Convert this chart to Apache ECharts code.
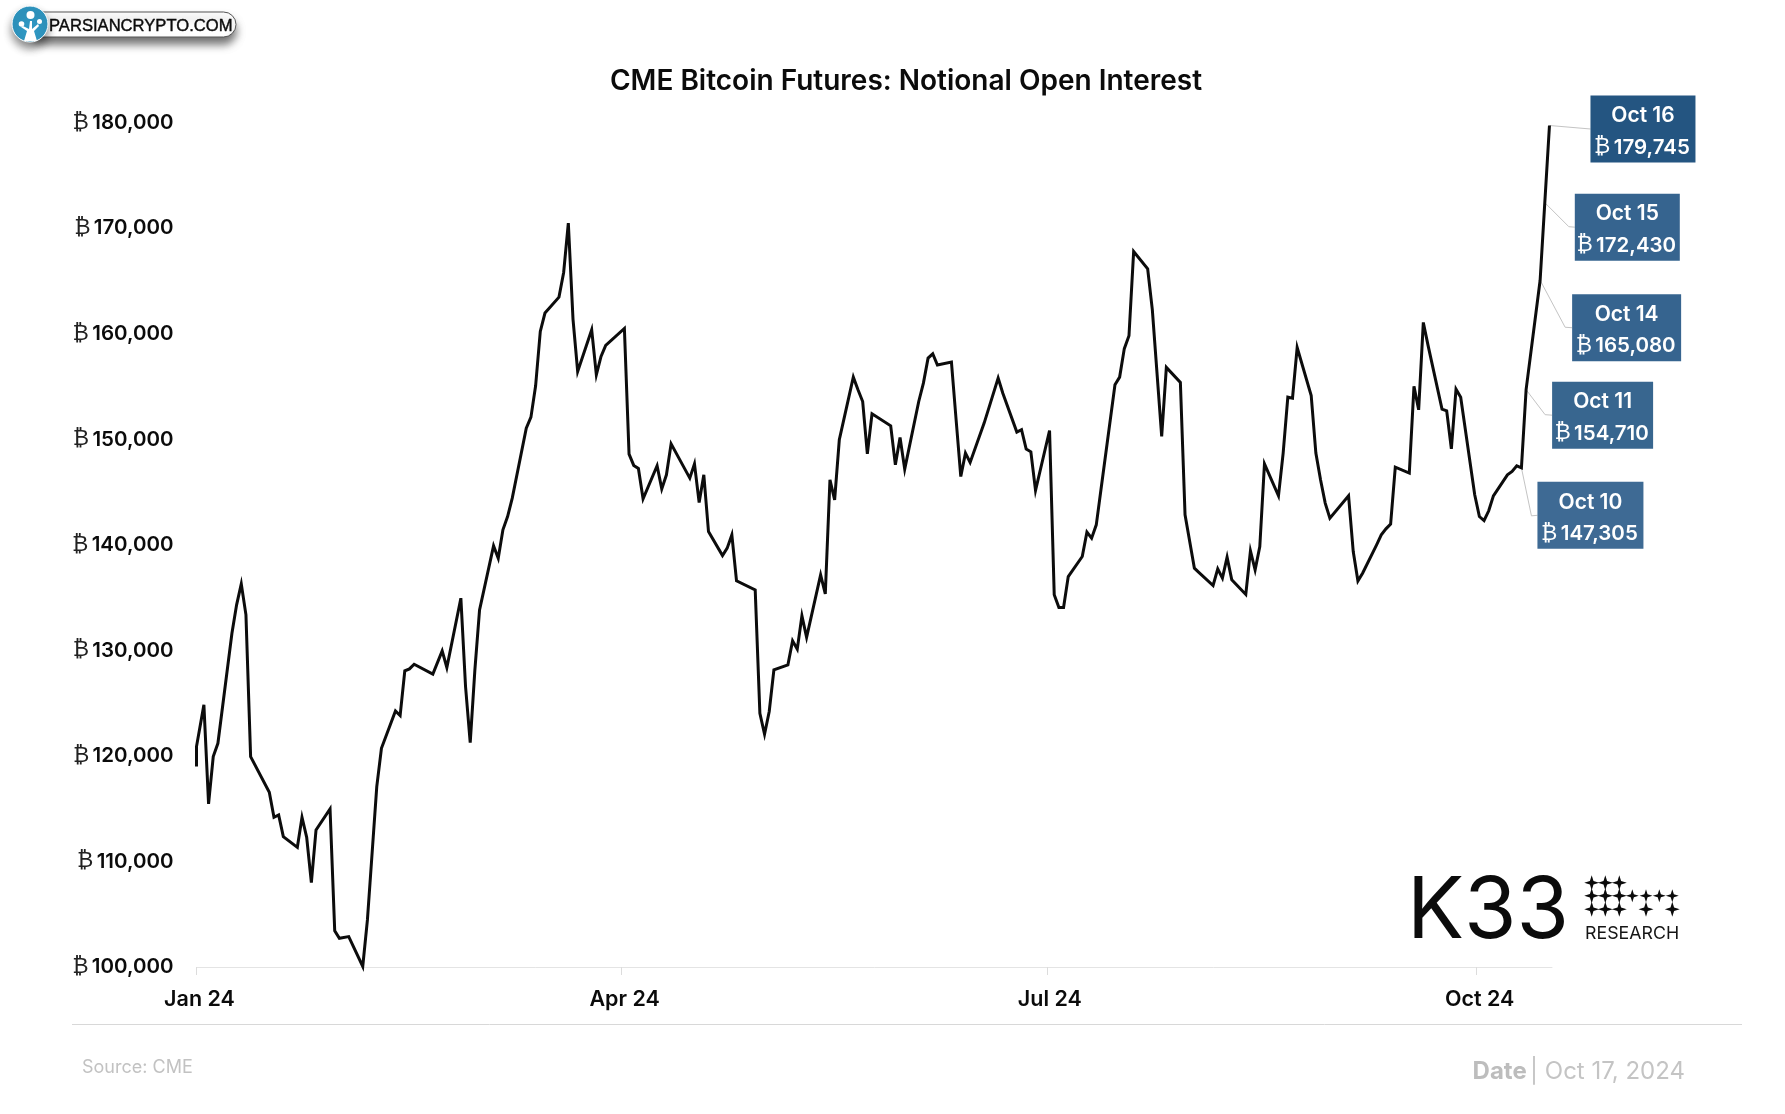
<!DOCTYPE html>
<html>
<head>
<meta charset="utf-8">
<title>CME Bitcoin Futures: Notional Open Interest</title>
<script src="https://cdn.jsdelivr.net/npm/echarts@6/dist/echarts.min.js"></script>
<style>
  html, body { margin: 0; padding: 0; background: #fff; }
  #main { width: 1785px; height: 1114px; }
</style>
</head>
<body>
<div id="main"></div>
<script>
const dates = [
  '2024-01-01T00:00', '2024-01-01T00:01', '2024-01-02', '2024-01-03', '2024-01-04', '2024-01-05', '2024-01-08', '2024-01-09', '2024-01-10', '2024-01-11', '2024-01-12',
  '2024-01-16', '2024-01-17', '2024-01-18', '2024-01-19', '2024-01-22', '2024-01-23', '2024-01-24', '2024-01-25', '2024-01-26',
  '2024-01-29', '2024-01-30', '2024-01-31', '2024-02-02', '2024-02-05', '2024-02-06', '2024-02-07', '2024-02-08', '2024-02-09',
  '2024-02-12', '2024-02-13', '2024-02-14', '2024-02-15', '2024-02-16', '2024-02-20', '2024-02-22', '2024-02-23',
  '2024-02-26', '2024-02-27', '2024-02-28', '2024-02-29', '2024-03-01', '2024-03-04', '2024-03-05', '2024-03-06', '2024-03-07', '2024-03-08',
  '2024-03-11', '2024-03-12', '2024-03-13', '2024-03-14', '2024-03-15', '2024-03-18', '2024-03-19', '2024-03-20', '2024-03-21', '2024-03-22',
  '2024-03-25', '2024-03-26', '2024-03-27', '2024-03-28', '2024-04-01', '2024-04-02', '2024-04-03', '2024-04-04', '2024-04-05',
  '2024-04-08', '2024-04-09', '2024-04-10', '2024-04-11', '2024-04-15', '2024-04-16', '2024-04-17', '2024-04-18', '2024-04-19',
  '2024-04-22', '2024-04-23', '2024-04-24', '2024-04-25', '2024-04-29', '2024-04-30', '2024-05-01', '2024-05-02', '2024-05-03',
  '2024-05-06', '2024-05-07', '2024-05-08', '2024-05-09', '2024-05-10', '2024-05-13', '2024-05-14', '2024-05-15', '2024-05-16', '2024-05-17',
  '2024-05-20', '2024-05-21', '2024-05-22', '2024-05-23', '2024-05-24', '2024-05-28', '2024-05-29', '2024-05-30', '2024-05-31',
  '2024-06-03', '2024-06-04', '2024-06-05', '2024-06-06', '2024-06-07', '2024-06-10', '2024-06-11', '2024-06-12', '2024-06-13', '2024-06-14',
  '2024-06-17', '2024-06-18', '2024-06-20', '2024-06-21', '2024-06-24', '2024-06-25', '2024-06-26', '2024-06-27', '2024-06-28',
  '2024-07-01', '2024-07-02', '2024-07-03', '2024-07-04', '2024-07-05', '2024-07-08', '2024-07-09', '2024-07-10', '2024-07-11', '2024-07-12',
  '2024-07-15', '2024-07-16', '2024-07-17', '2024-07-18', '2024-07-19', '2024-07-22', '2024-07-23', '2024-07-24', '2024-07-25', '2024-07-26',
  '2024-07-29', '2024-07-30', '2024-07-31', '2024-08-01', '2024-08-02', '2024-08-05', '2024-08-06', '2024-08-07', '2024-08-08', '2024-08-09',
  '2024-08-12', '2024-08-13', '2024-08-14', '2024-08-15', '2024-08-16', '2024-08-19', '2024-08-20', '2024-08-21', '2024-08-22', '2024-08-23',
  '2024-08-26', '2024-08-27', '2024-08-28', '2024-08-29', '2024-08-30', '2024-09-03', '2024-09-04', '2024-09-05', '2024-09-06',
  '2024-09-09', '2024-09-10', '2024-09-11', '2024-09-12', '2024-09-13', '2024-09-16', '2024-09-17', '2024-09-18', '2024-09-19', '2024-09-20',
  '2024-09-23', '2024-09-24', '2024-09-25', '2024-09-26', '2024-09-27', '2024-09-30', '2024-10-01', '2024-10-02', '2024-10-03', '2024-10-04',
  '2024-10-07', '2024-10-08', '2024-10-09', '2024-10-10', '2024-10-11', '2024-10-14', '2024-10-15', '2024-10-16'
];
const openInterest = [
  118990, 120890, 124840, 115450, 119940, 121200, 131630, 134320, 136310, 133370, 119940,
  116560, 114190, 114410, 112360, 111340, 114190, 112290, 108000, 112990,
  114980, 103440, 102720, 102880, 100060, 104460, 110780, 117100, 120730,
  124270, 123830, 128060, 128250, 128690, 127750, 129960, 128380,
  134950, 126580, 121270, 128160, 133840, 139910, 138740, 141430, 142690, 144430,
  151070, 152110, 155080, 160230, 161970, 163480, 165820, 170500, 161400, 156440,
  160390, 156120, 157860, 158900, 160510, 148600, 147530, 147240, 144370,
  147500, 145310, 146640, 149580, 146330, 147680, 144020, 146640, 141270,
  138990, 139690, 140950, 136590, 135740, 124050, 122060, 124210, 128160,
  128630, 130910, 130120, 133280, 131250, 137160, 135360, 146170, 144270, 149960,
  155900, 154700, 153590, 148630, 152420, 151290, 147590, 150180, 147180,
  153590, 155330, 157700, 158110, 157040, 157320, 151860, 146480, 148700, 147810,
  151540, 152960, 155810, 154380, 150690, 150910, 149080, 148820, 145160,
  150840, 135270, 134070, 134070, 137000, 138900, 141210, 140640, 141900, 145220,
  155170, 155900, 158600, 159820, 167810, 166170, 162280, 156280, 150280, 156820,
  155400, 142850, 140320, 137790, 137380, 136150, 137730, 136850, 138840, 136690,
  135300, 139440, 137640, 139850, 147680, 144650, 148700, 154000, 153910, 158710,
  154160, 148700, 146170, 143960, 142530, 144650, 139370, 136590, 137320,
  140010, 140950, 141520, 141970, 147370, 146800, 155020, 152800, 161080, 158930,
  152870, 152710, 149110, 154760, 154000, 144750, 142690, 142310, 143230, 144650,
  146640, 146960, 147500, 147305, 154710, 165080, 172430, 179745
];
const tickDates = ['2024-01-01', '2024-04-01', '2024-07-01', '2024-10-01'];
const tickLabels = ['Jan 24', 'Apr 24', 'Jul 24', 'Oct 24'];
const calloutDates = ['2024-10-16', '2024-10-15', '2024-10-14', '2024-10-11', '2024-10-10'];
const calloutLabels = ['Oct 16', 'Oct 15', 'Oct 14', 'Oct 11', 'Oct 10'];
const calloutValues = [179745, 172430, 165080, 154710, 147305];

const FONT = 'Inter, "Noto Sans", sans-serif';
const COIN = '"DejaVu Sans", sans-serif';

// settlement stamps sit a bit after midnight on the axis
function stamp(d) {
  return +new Date(d.length > 10 ? d + ':00' : d + 'T14:00:00');
}
const fmt = v => v.toLocaleString('en-US');
const tickStamps = tickDates.map(d => +new Date(d + 'T00:00:00'));

var chart = echarts.init(document.getElementById('main'));

chart.setOption({
  animation: false,
  backgroundColor: '#fff',
  title: {
    text: 'CME Bitcoin Futures: Notional Open Interest',
    left: 901,
    top: 63,
    textAlign: 'center',
    textStyle: { fontFamily: FONT, fontWeight: 600, fontSize: 28, color: '#0b0b0b' }
  },
  grid: { left: 196.5, top: 122.8, right: 233, bottom: 147 },
  xAxis: {
    type: 'value',
    min: +new Date('2024-01-01T00:00:00'),
    max: +new Date('2024-10-17T03:00:00'),
    splitLine: { show: false },
    axisLine: { lineStyle: { color: '#e4e4e4', width: 1 } },
    axisTick: { customValues: tickStamps, length: 8, lineStyle: { color: '#dcdcdc' } },
    axisLabel: {
      customValues: tickStamps,
      margin: 22,
      padding: [0, 0, 0, 6],
      fontFamily: FONT,
      fontWeight: 600,
      fontSize: 21.5,
      color: '#0b0b0b',
      hideOverlap: false,
      formatter: function (value) {
        return tickLabels[tickStamps.indexOf(+value)] || '';
      }
    }
  },
  yAxis: {
    type: 'value',
    min: 100000,
    max: 180000,
    interval: 10000,
    splitLine: { show: false },
    axisLine: { show: false },
    axisTick: { show: false },
    axisLabel: {
      margin: 23,
      formatter: function (value) {
        return '{b|₿} {n|' + fmt(value) + '}';
      },
      rich: {
        b: { fontFamily: COIN, fontSize: 22, fontWeight: 200, color: '#222' },
        n: { fontFamily: FONT, fontWeight: 600, fontSize: 20.5, color: '#0b0b0b' }
      }
    }
  },
  series: [{
    type: 'line',
    data: dates.map((d, i) => [stamp(d), openInterest[i]]),
    showSymbol: false,
    clip: false,
    lineStyle: { color: '#0c0c0c', width: 3, join: 'miter', miterLimit: 6 }
  }]
});

// callout boxes hang off their data points
const boxOffset = [[41, -30], [30, -9], [32, 14], [26, -8], [16, 14]];
const elbowOffset = [null, [24, 24], [25, 47], [19, 25], [10, 48]];
const boxWidth = [105, 105, 109, 101, 106];
const boxColor = ['#245581', '#36648f', '#36648f', '#38668f', '#3e6a94'];
const calloutGraphics = [];
calloutDates.forEach(function (d, i) {
  const p = chart.convertToPixel({ gridIndex: 0 }, [stamp(d), calloutValues[i]]);
  const left = p[0] + boxOffset[i][0];
  const top = p[1] + boxOffset[i][1];
  const mid = left + boxWidth[i] / 2;
  const pts = [p];
  if (elbowOffset[i]) pts.push([p[0] + elbowOffset[i][0], p[1] + elbowOffset[i][1]]);
  pts.push([left, top + 33.5]);
  calloutGraphics.push(
    { type: 'polyline', silent: true, shape: { points: pts }, style: { stroke: '#c4c4c4', lineWidth: 1, fill: null } },
    { type: 'rect', silent: true, shape: { x: left, y: top, width: boxWidth[i], height: 67 }, style: { fill: boxColor[i] } },
    { type: 'text', silent: true, x: mid, y: top + 20.5, style: { text: calloutLabels[i], fill: '#fff', font: '600 21px ' + FONT, align: 'center', verticalAlign: 'middle' } },
    {
      type: 'text', silent: true, x: mid - 1, y: top + 52,
      style: {
        text: '{b|₿} {n|' + fmt(calloutValues[i]) + '}',
        align: 'center', verticalAlign: 'middle', fill: '#fff',
        rich: {
          b: { fontFamily: COIN, fontSize: 22, fontWeight: 200, fill: '#fff' },
          n: { fontFamily: FONT, fontWeight: 600, fontSize: 20.5, fill: '#fff' }
        }
      }
    }
  );
});

// K33 mark: four pointed stars
function star(cx, cy, r) {
  const k = r * 0.24;
  return {
    type: 'polygon', silent: true,
    shape: { points: [[cx, cy - r], [cx + k, cy - k], [cx + r, cy], [cx + k, cy + k], [cx, cy + r], [cx - k, cy + k], [cx - r, cy], [cx - k, cy - k]] },
    style: { fill: '#0b0b0b' }
  };
}
const starCols = [1591.7, 1605.3, 1619.3, 1632.3, 1646, 1659.3, 1672.3];
const starRows = [882.7, 895.7, 909.3];
const starPattern = [[0, 1, 2], [0, 1, 2, 3, 4, 5, 6], [0, 1, 2, 4, 6]];
const starGraphics = [];
starPattern.forEach(function (row, r) {
  row.forEach(function (c) {
    starGraphics.push(star(starCols[c], starRows[r], (c > 2 && r === 1) ? 6.5 : 7.5));
  });
});

chart.setOption({
  graphic: [
    // footer
    { type: 'line', silent: true, shape: { x1: 72, y1: 1024.5, x2: 1742, y2: 1024.5 }, style: { stroke: '#d8d8d8', lineWidth: 1 } },
    { type: 'text', silent: true, x: 82, y: 1068, style: { text: 'Source: CME', fill: '#c2c2c2', font: '400 18px ' + FONT, verticalAlign: 'middle' } },
    {
      type: 'text', silent: true, x: 1685, y: 1072,
      style: {
        text: '{a|Date} {c|| Oct 17, 2024}',
        align: 'right', verticalAlign: 'middle',
        rich: {
          a: { fontFamily: FONT, fontWeight: 700, fontSize: 24, fill: '#bdbdbd' },
          c: { fontFamily: FONT, fontWeight: 400, fontSize: 24, fill: '#c4c4c4' }
        }
      }
    },
    // K33 logo
    { type: 'text', silent: true, x: 1407, y: 912, style: { text: 'K33', fill: '#0b0b0b', font: '400 85px ' + FONT, verticalAlign: 'middle' } },
    { type: 'text', silent: true, x: 1585, y: 933.5, style: { text: 'RESEARCH', fill: '#151515', font: '400 17.8px ' + FONT, verticalAlign: 'middle' } },
    ...starGraphics,
    // watermark badge
    {
      type: 'rect', silent: true,
      shape: { x: 30, y: 12, width: 206, height: 25, r: 12.5 },
      style: { fill: '#fff', stroke: '#555', lineWidth: 1, shadowColor: 'rgba(0,0,0,0.55)', shadowBlur: 9, shadowOffsetY: 7 }
    },
    { type: 'text', silent: true, x: 49, y: 26, style: { text: 'PARSIANCRYPTO.COM', fill: '#0b0b0b', stroke: '#0b0b0b', lineWidth: 0.4, font: '400 16.6px "Liberation Sans", sans-serif', verticalAlign: 'middle' } },
    {
      type: 'circle', silent: true,
      shape: { cx: 30, cy: 24, r: 18 },
      style: { fill: '#2f96c1', stroke: '#fff', lineWidth: 1, shadowColor: 'rgba(0,0,0,0.45)', shadowBlur: 8, shadowOffsetY: 6 }
    },
    { type: 'polygon', silent: true, shape: { points: [[24, 41], [27, 31], [21, 27], [23, 26], [29, 29], [30, 21], [32, 21], [32, 29], [38, 24], [39, 26], [34, 31], [37, 41]] }, style: { fill: '#fff' } },
    { type: 'circle', silent: true, shape: { cx: 30.5, cy: 15, r: 4 }, style: { fill: '#fff' } },
    { type: 'circle', silent: true, shape: { cx: 21.5, cy: 24, r: 2.8 }, style: { fill: '#fff' } },
    { type: 'circle', silent: true, shape: { cx: 39.5, cy: 21.5, r: 2.5 }, style: { fill: '#fff' } },
    ...calloutGraphics
  ]
});
</script>
</body>
</html>
